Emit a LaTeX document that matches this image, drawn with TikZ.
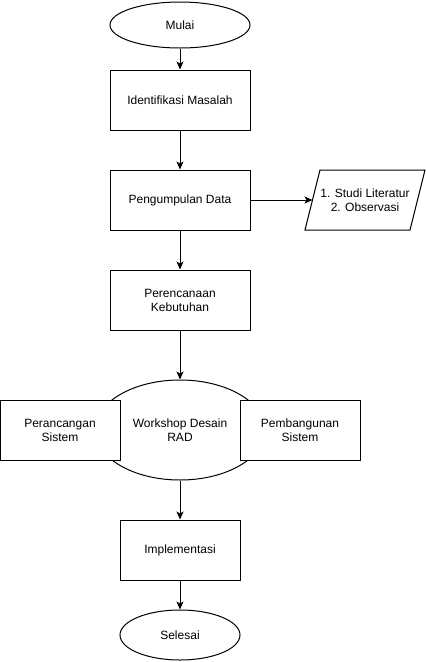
\documentclass[tikz,border=0pt]{standalone}
\usepackage{fontspec}
\setmainfont{Liberation Sans}
\usetikzlibrary{shapes.geometric,arrows.meta}
\begin{document}
\begin{tikzpicture}[x=1pt,y=-1pt,
  every node/.style={font=\fontsize{12}{14}\selectfont, align=center},
  box/.style={draw, fill=white, line width=1pt, minimum width=120pt, minimum height=60pt, inner sep=0pt},
  widebox/.style={box, minimum width=140pt},
  oval/.style={draw, fill=white, ellipse, line width=1pt, inner sep=0pt},
  arr/.style={draw, line width=1pt, -{Stealth[length=8pt,width=7pt,inset=2pt]}}
]
\useasboundingbox (0,0) rectangle (426,662);
\node[oval, minimum width=140pt, minimum height=46pt] (mulai) at (180,25) {Mulai};
\node[widebox] (ident) at (180,100) {Identifikasi Masalah};
\node[widebox] (kumpul) at (180,200) {Pengumpulan Data};
\draw[line width=1pt] (305,230) -- (320,170) -- (425,170) -- (410,230) -- cycle;
\node (data) at (365,200) {1. Studi Literatur\\2. Observasi};
\coordinate (dataL) at (312.5,200);
\node[widebox] (rencana) at (180,300) {Perencanaan\\Kebutuhan};
\node[oval, minimum width=170pt, minimum height=100pt] (rad) at (180,430) {};
\node[box] (rancang) at (60,430) {Perancangan\\Sistem};
\node[box] (bangun) at (300,430) {Pembangunan\\Sistem};
\node (radtxt) at (180,430) {Workshop Desain\\RAD};
\node[box] (impl) at (180,550) {Implementasi};
\node[oval, minimum width=120pt, minimum height=50pt] (selesai) at (180,635) {Selesai};
\path[arr] (mulai) -- (ident);
\path[arr] (ident) -- (kumpul);
\path[arr] (kumpul) -- (dataL);
\path[arr] (kumpul) -- (rencana);
\path[arr] (rencana) -- (rad);
\path[arr] (rad) -- (impl);
\path[arr] (impl) -- (selesai);
\end{tikzpicture}
\end{document}
